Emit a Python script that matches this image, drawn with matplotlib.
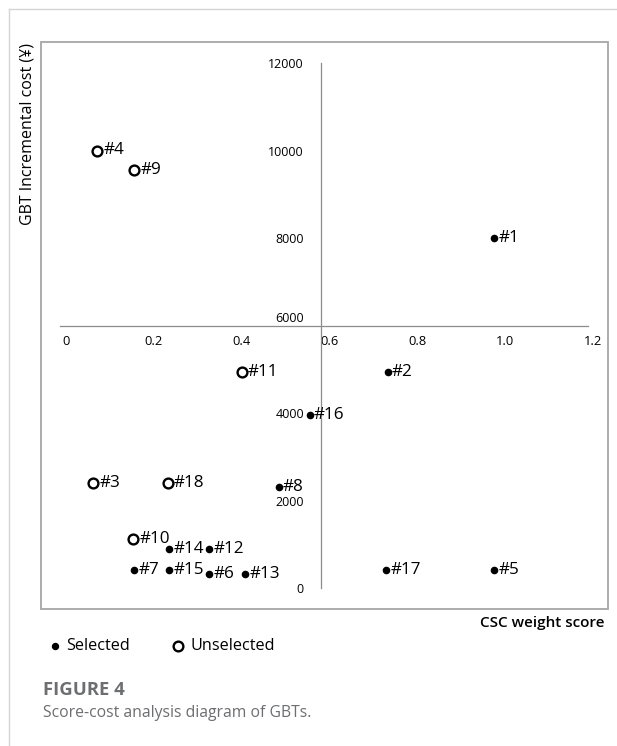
import matplotlib
matplotlib.use('Agg')
import matplotlib.pyplot as plt
from matplotlib.patches import Rectangle
from matplotlib.lines import Line2D

plt.rcParams['font.family'] = ['Open Sans', 'DejaVu Sans']

# GBT data
names = ['#1', '#2', '#3', '#4', '#5', '#6', '#7', '#8', '#9',
         '#10', '#11', '#12', '#13', '#14', '#15', '#16', '#17', '#18']
score = [0.975, 0.733, 0.062, 0.071, 0.975, 0.326, 0.155, 0.485, 0.155,
         0.153, 0.40, 0.326, 0.408, 0.235, 0.235, 0.555, 0.73, 0.232]
cost = [8000, 4940, 2400, 10000, 410, 320, 410, 2310, 9550,
        1120, 4940, 890, 320, 890, 410, 3950, 410, 2400]
selected = [True, True, False, False, True, True, True, True, False,
            False, False, True, True, True, True, True, True, False]

x_ticks = [0, 0.2, 0.4, 0.6, 0.8, 1.0, 1.2]
x_ticklabels = ['0', '0.2', '0.4', '0.6', '0.8', '1.0', '1.2']
y_ticks = [0, 2000, 4000, 6000, 8000, 10000, 12000]
cross_x = 0.58    # vertical axis crosses here
cross_y = 6000    # horizontal axis crosses here

W, H = 617, 746
fig = plt.figure(figsize=(W / 100, H / 100), dpi=100)

# page border lines (top and left)
fig.add_artist(Line2D([9 / W, 1], [1 - 9 / H, 1 - 9 / H], color='#d4d4d4', lw=1))
fig.add_artist(Line2D([9 / W, 9 / W], [0, 1 - 9 / H], color='#d4d4d4', lw=1))

ax = fig.add_axes([41 / W, 137 / H, 567 / W, 567 / H])
ax.set_xlim(-0.057, 1.2346)
ax.set_ylim(-480, 12480)

for s in ['top', 'right']:
    ax.spines[s].set_visible(False)
ax.spines['left'].set_position(('data', cross_x))
ax.spines['left'].set_bounds(0, 12000)
ax.spines['bottom'].set_position(('data', cross_y))
ax.spines['bottom'].set_bounds(-0.014, 1.19)
for s in ['left', 'bottom']:
    ax.spines[s].set_color('#8c8c8c')
    ax.spines[s].set_linewidth(0.9)

ax.add_patch(Rectangle((0, 0), 1, 1, transform=ax.transAxes, fill=False,
                       edgecolor='#a6a6a6', lw=1.3, clip_on=False))

ax.set_xticks(x_ticks)
ax.set_xticklabels(x_ticklabels)
ax.set_yticks(y_ticks)
ax.tick_params(axis='x', length=0, labelsize=9.3, pad=7)
ax.tick_params(axis='y', length=0, labelsize=9, pad=12)
# the 6000 label sits above the horizontal axis
ax.get_yticklabels()[3].set_va('bottom')

for n, x, y, sel in zip(names, score, cost, selected):
    if sel:
        ax.scatter(x, y, s=20, color='black', zorder=3)
        off = 3
    else:
        ax.scatter(x, y, s=50, facecolor='white', edgecolor='black', lw=1.7, zorder=3)
        off = 4.5
    ax.annotate(n, (x, y), xytext=(off, 0), textcoords='offset points',
                ha='left', va='center', fontsize=12.3)

fig.text(27 / W, 1 - 43 / H, 'GBT Incremental cost (¥)', rotation=90,
         ha='center', va='top', fontsize=11.5)
fig.text(605 / W, 1 - 623 / H, 'CSC weight score', ha='right', va='center',
         fontsize=11, fontweight='semibold')

# legend row
fig.add_artist(Line2D([55 / W], [1 - 646 / H], marker='o', markersize=4.3,
                      color='black', ls='none'))
fig.text(66 / W, 1 - 646 / H, 'Selected', ha='left', va='center', fontsize=11.7)
fig.add_artist(Line2D([178 / W], [1 - 646 / H], marker='o', markersize=7,
                      markerfacecolor='white', markeredgecolor='black',
                      markeredgewidth=1.7, ls='none'))
fig.text(191 / W, 1 - 646 / H, 'Unselected', ha='left', va='center', fontsize=11.7)

fig.text(43 / W, 1 - 690 / H, 'FIGURE 4', ha='left', va='center',
         fontsize=13.3, fontweight='bold', color='#6d6e71')
fig.text(43 / W, 1 - 713 / H, 'Score-cost analysis diagram of GBTs.', ha='left',
         va='center', fontsize=11.3, color='#6d6e71')

fig.savefig('out.png', dpi=100)
